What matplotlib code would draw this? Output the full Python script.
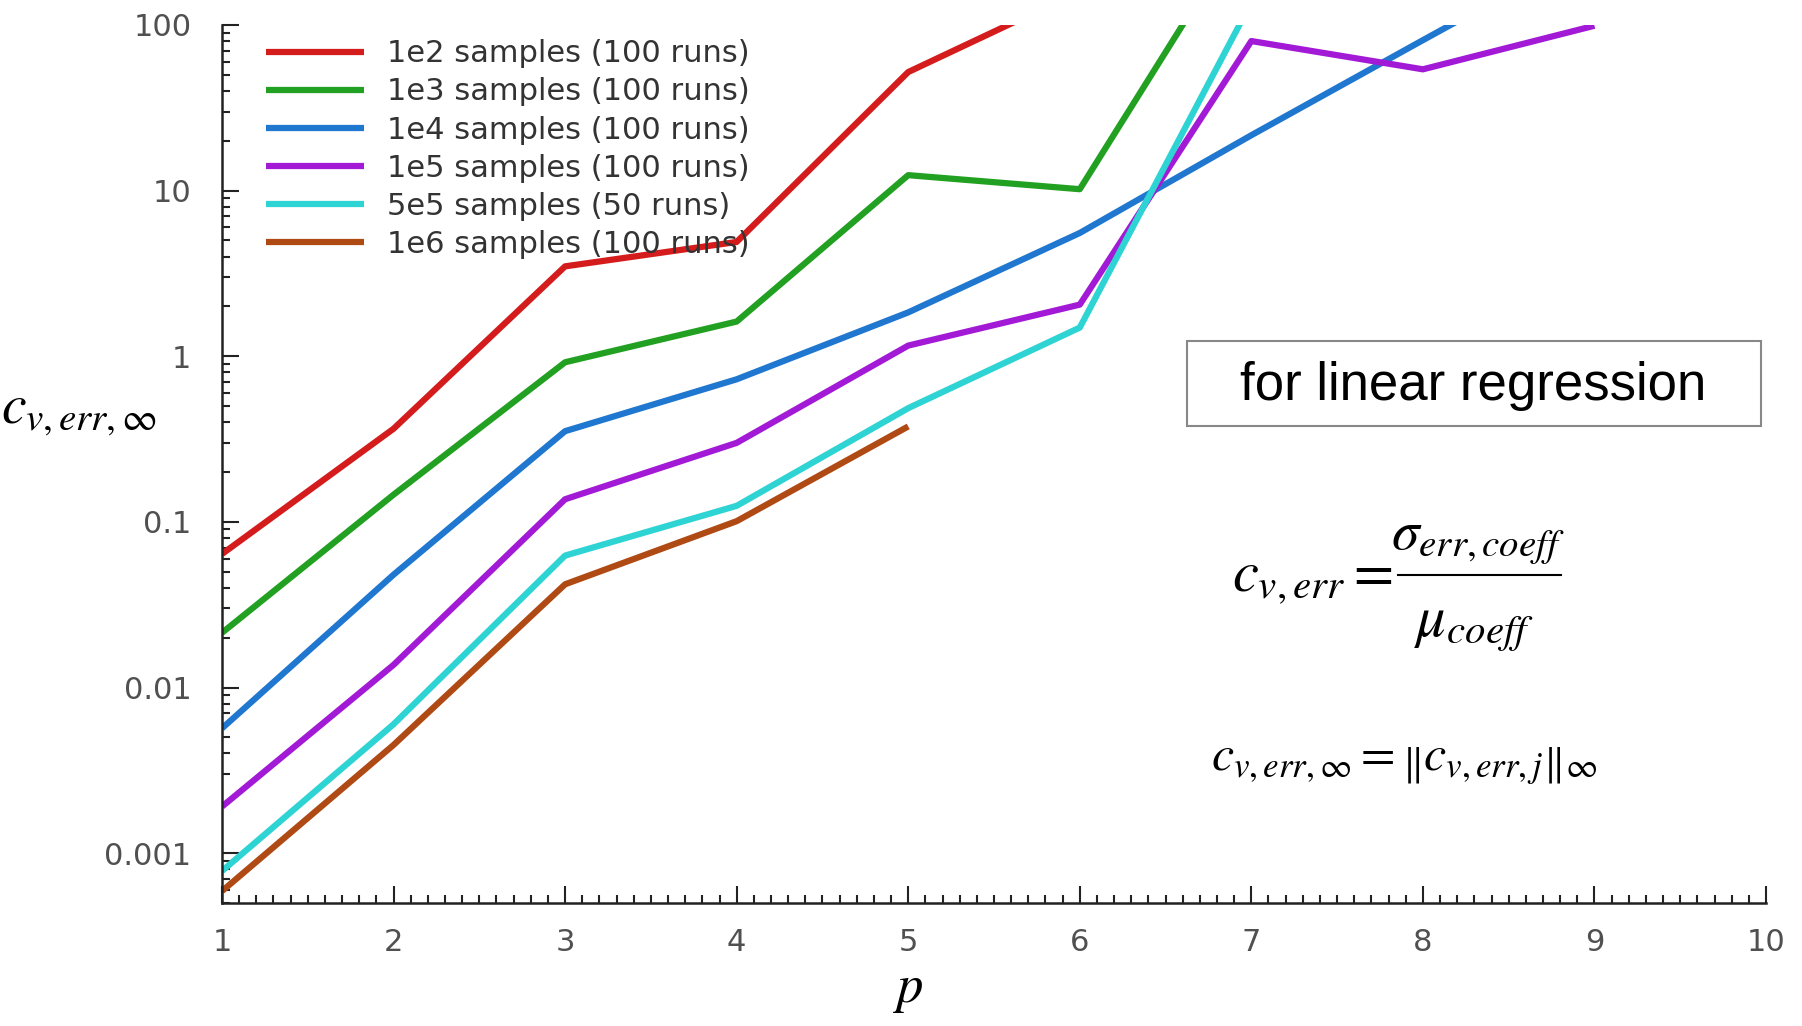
import numpy as np
import matplotlib
matplotlib.use('Agg')
import matplotlib.pyplot as plt
from matplotlib.ticker import FixedLocator, MultipleLocator, NullFormatter, LogLocator
from matplotlib.patches import Rectangle
from matplotlib.lines import Line2D

p = [1, 2, 3, 4, 5, 6, 7, 8, 9]

# coefficient of variation (inf-norm) per sample size
cv_1e2 = [0.064, 0.365, 3.49, 4.9, 52, 160]
cv_1e3 = [0.0214, 0.146, 0.92, 1.62, 12.4, 10.2, 460]
cv_1e4 = [0.00567, 0.048, 0.353, 0.726, 1.84, 5.55, 21.6, 81, 300]
cv_1e5 = [0.00191, 0.0137, 0.137, 0.30, 1.16, 2.05, 80, 54, 99]
cv_5e5 = [0.00078, 0.0060, 0.0626, 0.125, 0.486, 1.49, 137]
cv_1e6 = [0.00059, 0.0045, 0.042, 0.101, 0.377]

labels = ['1e2 samples (100 runs)', '1e3 samples (100 runs)', '1e4 samples (100 runs)',
          '1e5 samples (100 runs)', '5e5 samples (50 runs)', '1e6 samples (100 runs)']
colors = ['#d41c1c', '#22a022', '#1f77d0', '#a21ad6', '#2ed3d3', '#b04a14']
series = [cv_1e2, cv_1e3, cv_1e4, cv_1e5, cv_5e5, cv_1e6]
yticks = [0.001, 0.01, 0.1, 1, 10, 100]
ytick_labels = ['0.001', '0.01', '0.1', '1', '10', '100']

plt.rcParams['mathtext.fontset'] = 'stix'

W, H = 1802, 1026
fig = plt.figure(figsize=(W / 100, H / 100), dpi=100)
ax = fig.add_axes([222 / W, 1 - 903 / H, (1766 - 222) / W, (903 - 25) / H])

for vals, lab, col in zip(series, labels, colors):
    ax.plot(p[:len(vals)], vals, color=col, lw=4.5, label=lab, solid_capstyle='butt')

ax.set_yscale('log')
ax.set_xlim(1, 10)
ax.set_ylim(0.0005, 100)

for s in ['top', 'right']:
    ax.spines[s].set_visible(False)
for s in ['left', 'bottom']:
    ax.spines[s].set_linewidth(1.8)
    ax.spines[s].set_color('#222222')

ax.xaxis.set_major_locator(MultipleLocator(1))
ax.xaxis.set_minor_locator(MultipleLocator(0.1))
ax.yaxis.set_major_locator(FixedLocator(yticks))
ax.yaxis.set_minor_locator(LogLocator(base=10, subs=np.arange(2, 10)))
ax.yaxis.set_minor_formatter(NullFormatter())
ax.set_yticklabels(ytick_labels)
ax.tick_params(which='both', direction='in', colors='#222222', labelcolor='#505050',
               labelsize=22, width=1.5)
ax.tick_params(which='major', length=12)
ax.tick_params(which='minor', length=6)
ax.tick_params(axis='x', pad=18)
ax.tick_params(axis='y', pad=22)

# axis labels placed directly
fig.text(908 / W, 1 - 1002 / H, '$p$', fontsize=38, ha='center', va='baseline')
ax.set_ylabel(r'$c_{v,err,\infty}$', fontsize=40, rotation=0)
ax.yaxis.set_label_coords(-0.093, 0.53)

leg = ax.legend(loc='upper left', bbox_to_anchor=(0.011, 1.015), frameon=False, fontsize=22,
                handlelength=3.2, handletextpad=0.75, labelspacing=0.3)
for t in leg.get_texts():
    t.set_color('#333333')

# boxed note
fig.patches.append(Rectangle((1187 / W, 1 - 426 / H), (1761 - 1187) / W, (426 - 341) / H,
                             transform=fig.transFigure, fc='white', ec='#888888', lw=1.5))
fig.text(1473 / W, 1 - 386 / H, 'for linear regression', fontsize=38,
         family='Liberation Sans', ha='center', va='center')

# c_v,err definition as a built-up fraction
fig.text(1392 / W, 1 - 578 / H, r'$c_{v,err} =$', fontsize=42, ha='right', va='center')
fig.text(1478 / W, 1 - 540 / H, r'$\sigma_{err,coeff}$', fontsize=40, ha='center', va='center')
fig.lines.append(Line2D([1398 / W, 1561 / W], [1 - 575 / H, 1 - 575 / H],
                        transform=fig.transFigure, color='black', lw=1.5))
fig.text(1474 / W, 1 - 625 / H, r'$\mu_{coeff}$', fontsize=42, ha='center', va='center')

fig.text(1404 / W, 1 - 762 / H, r'$c_{v,err,\infty} = \left\| c_{v,err,j} \right\|_{\infty}$',
         fontsize=36, ha='center', va='center')

fig.savefig('out.png', dpi=100, facecolor='white')
